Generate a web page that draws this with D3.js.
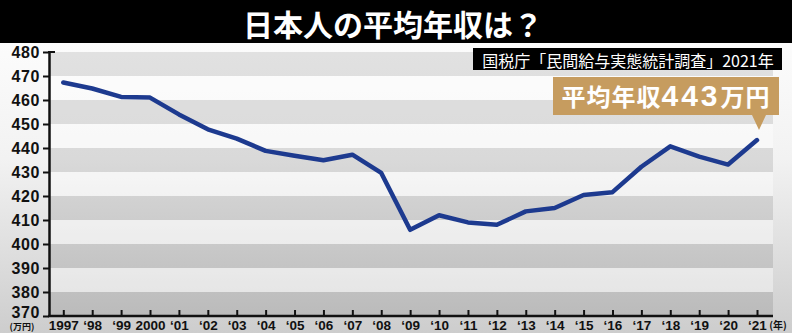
<!DOCTYPE html>
<html>
<head>
<meta charset="utf-8">
<script src="https://cdn.jsdelivr.net/npm/d3@7"></script>
<style>
  html, body { margin: 0; padding: 0; background: #000; }
  svg { display: block; }
</style>
</head>
<body>
<div id="chart"></div>
<script>
const years = [1997, 1998, 1999, 2000, 2001, 2002, 2003, 2004, 2005, 2006, 2007, 2008,
               2009, 2010, 2011, 2012, 2013, 2014, 2015, 2016, 2017, 2018, 2019, 2020, 2021];
const income = [467.3, 464.8, 461.3, 461.0, 454.0, 447.8, 443.9, 438.8, 436.8, 434.9, 437.2, 429.6,
                405.9, 412.0, 409.0, 408.0, 413.6, 415.0, 420.4, 421.6, 432.2, 440.7, 436.4, 433.1, 443.3];
const yearLabels = ["1997", "‘98", "‘99", "2000", "‘01", "‘02", "‘03", "‘04", "‘05", "‘06", "‘07", "‘08",
                    "‘09", "‘10", "‘11", "‘12", "‘13", "‘14", "‘15", "‘16", "‘17", "‘18", "‘19", "‘20", "‘21"];
const yTicks = [370, 380, 390, 400, 410, 420, 430, 440, 450, 460, 470, 480];

const titleText = "日本人の平均年収は？";
const sourceText = "国税庁「民間給与実態統計調査」2021年";

const W = 792, H = 333;
const plot = {left: 49, right: 773, top: 52, bottom: 316};

const svg = d3.select("#chart").append("svg")
  .attr("width", W).attr("height", H);

const defs = svg.append("defs");
const bg = defs.append("linearGradient").attr("id", "bg")
  .attr("x1", 0).attr("y1", 0).attr("x2", 0).attr("y2", 1);
bg.append("stop").attr("offset", "0%").attr("stop-color", "#fcfcfc");
bg.append("stop").attr("offset", "40%").attr("stop-color", "#f2f2f2");
bg.append("stop").attr("offset", "100%").attr("stop-color", "#cdcdcd");

svg.append("rect").attr("x", 0).attr("y", 43).attr("width", W).attr("height", H - 43)
  .attr("fill", "url(#bg)");

// title bar
svg.append("rect").attr("x", 0).attr("y", 0).attr("width", W).attr("height", 43).attr("fill", "#000");
svg.append("text")
  .attr("x", 393).attr("y", 23)
  .attr("text-anchor", "middle").attr("dominant-baseline", "central")
  .attr("fill", "#fff")
  .style("font-family", "'Noto Sans CJK JP', sans-serif")
  .style("font-weight", "bold").style("font-size", "30px")
  .text(titleText);

const x = d3.scaleLinear().domain([1997, 2021]).range([63.3, 757]);
const y = d3.scaleLinear().domain([370, 480]).range([plot.bottom, plot.top]);

// stripes
const bands = d3.range(yTicks.length - 1).map(i => ({lo: yTicks[i], hi: yTicks[i + 1], i}));
svg.append("g").selectAll("rect")
  .data(bands).enter().append("rect")
  .attr("x", plot.left).attr("width", plot.right - plot.left)
  .attr("y", d => y(d.hi)).attr("height", d => y(d.lo) - y(d.hi))
  .attr("fill", d => d.i % 2 === 0 ? "#000" : "#fff")
  .attr("fill-opacity", d => d.i % 2 === 0 ? 0.1 : 0.4);

// y axis
const yAxis = svg.append("g")
  .attr("transform", `translate(${plot.left},0)`)
  .call(d3.axisLeft(y).tickValues(yTicks).tickSize(6).tickSizeOuter(0).tickPadding(3));
yAxis.select(".domain").attr("stroke", "#111").attr("stroke-width", 2.5);
yAxis.selectAll(".tick line").attr("stroke", "#111").attr("stroke-width", 2);
yAxis.selectAll(".tick text")
  .attr("fill", "#111")
  .attr("dy", d => d === 370 ? "0.1em" : "0.32em")
  .style("font-family", "'Liberation Sans', Arial, sans-serif")
  .style("font-weight", "bold").style("font-size", "16px")
  .style("letter-spacing", "0.6px");
svg.append("line")
  .attr("x1", plot.left - 1).attr("x2", plot.left + 6)
  .attr("y1", y(480)).attr("y2", y(480))
  .attr("stroke", "#111").attr("stroke-width", 2);

// x axis
const xAxis = svg.append("g")
  .attr("transform", `translate(0,${plot.bottom})`)
  .call(d3.axisBottom(x).tickValues(years).tickSize(-6).tickSizeOuter(0)
    .tickFormat((d, i) => yearLabels[i]));
xAxis.select(".domain").remove();
xAxis.append("line")
  .attr("x1", plot.left - 1).attr("x2", plot.right).attr("y1", 0).attr("y2", 0)
  .attr("stroke", "#111").attr("stroke-width", 2.5);
xAxis.selectAll(".tick line").attr("stroke", "#111").attr("stroke-width", 2);
xAxis.selectAll(".tick text")
  .attr("y", 4).attr("dy", "0.71em")
  .attr("fill", "#111")
  .style("font-family", "'Liberation Sans', Arial, sans-serif")
  .style("font-weight", "bold").style("font-size", "13.5px");

svg.append("text").attr("x", 22).attr("y", 330).attr("text-anchor", "middle")
  .attr("fill", "#111")
  .style("font-family", "'Noto Sans CJK JP', sans-serif").style("font-weight", "bold").style("font-size", "9px")
  .text("(万円)");
svg.append("text").attr("x", 778).attr("y", 329).attr("text-anchor", "middle")
  .attr("fill", "#111")
  .style("font-family", "'Noto Sans CJK JP', sans-serif").style("font-weight", "bold").style("font-size", "10px")
  .text("(年)");

// line
const data = years.map((yr, i) => ({yr, v: income[i]}));
svg.append("path")
  .datum(data)
  .attr("fill", "none")
  .attr("stroke", "#1d3a8f")
  .attr("stroke-width", 4.5)
  .attr("stroke-linejoin", "round")
  .attr("stroke-linecap", "round")
  .attr("d", d3.line().x(d => x(d.yr)).y(d => y(d.v)));

// source box
svg.append("rect").attr("x", 473).attr("y", 48).attr("width", 309).attr("height", 22).attr("fill", "#000");
svg.append("text").attr("x", 628).attr("y", 59.5)
  .attr("text-anchor", "middle").attr("dominant-baseline", "central")
  .attr("fill", "#fff")
  .style("font-family", "'Noto Sans CJK JP', sans-serif").style("font-size", "16px")
  .text(sourceText);

// callout
const last = data[data.length - 1];
const tipX = x(last.yr) + 2, tipY = y(last.v) - 10;
const box = {x0: 553, x1: 779, y0: 77, y1: 115};
svg.append("path")
  .attr("fill", "#c69c5f")
  .attr("d", `M${box.x0},${box.y0}H${box.x1}V${box.y1}H${tipX + 7}L${tipX},${tipY}L${tipX - 7},${box.y1}H${box.x0}Z`);
const call = svg.append("text").attr("x", 666).attr("y", 106)
  .attr("text-anchor", "middle").attr("fill", "#fff")
  .style("font-family", "'Noto Sans CJK JP', sans-serif").style("font-weight", "bold");
call.append("tspan").style("font-size", "24px").style("letter-spacing", "1px").text("平均年収");
call.append("tspan").style("font-size", "30px").style("font-family", "'Liberation Sans', Arial, sans-serif")
  .style("letter-spacing", "3px").text(d3.format(".0f")(last.v));
call.append("tspan").style("font-size", "24px").style("letter-spacing", "1px").text("万円");
</script>
</body>
</html>
